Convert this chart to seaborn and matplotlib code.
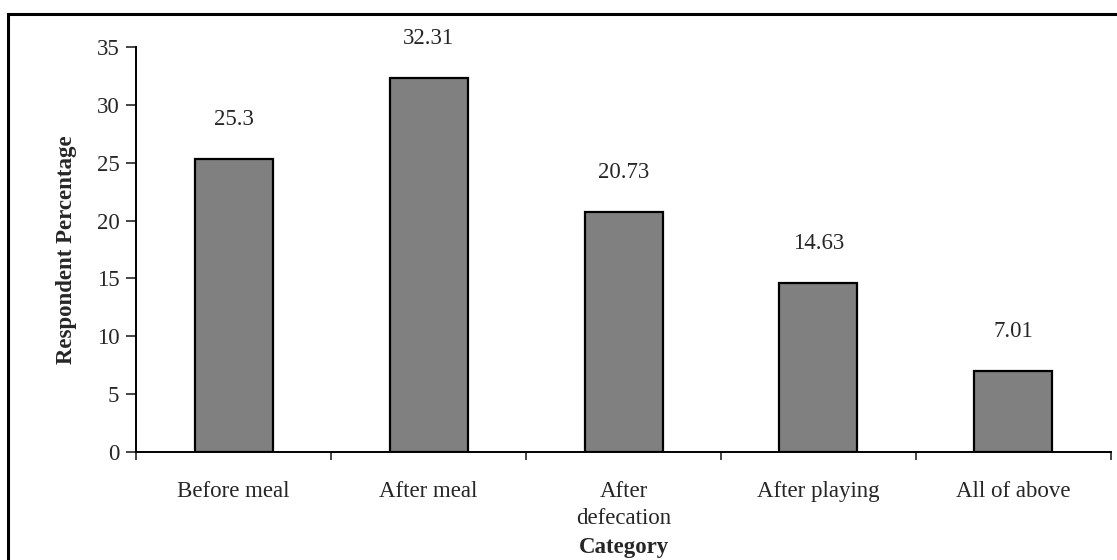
import matplotlib
matplotlib.use("Agg")
import matplotlib.pyplot as plt
import seaborn as sns
import pandas as pd
from matplotlib.patches import Rectangle

# dados do gráfico
categorias = ["Before meal", "After meal", "After\ndefecation", "After playing", "All of above"]
percentual = [25.3, 32.31, 20.73, 14.63, 7.01]
rotulos = ["25.3", "32.31", "20.73", "14.63", "7.01"]
yticks = [0, 5, 10, 15, 20, 25, 30, 35]

df = pd.DataFrame({"categoria": categorias, "percentual": percentual})

sns.set_style("white")
plt.rcParams["font.family"] = ["Liberation Serif", "DejaVu Serif"]
fs = 16.5

fig = plt.figure(figsize=(11.17, 5.6), dpi=100)
ax = fig.add_axes([0.1218, 0.193, 0.8728, 0.723])

sns.barplot(data=df, x="categoria", y="percentual", color="#808080", saturation=1,
            edgecolor="black", linewidth=1.6, width=0.4, ax=ax)

for i, (v, txt) in enumerate(zip(percentual, rotulos)):
    ax.text(i, v + 3.4, txt, ha="center", va="center", fontsize=fs)

ax.set_xlim(-0.5, len(categorias) - 0.5)
ax.set_ylim(0, 35)
ax.set_yticks(yticks)
ax.tick_params(axis="y", labelsize=fs, direction="out", length=7, width=1.2, left=True, pad=5)
ax.set_xticks(range(len(categorias)))
ax.set_xticklabels(categorias, fontsize=fs, linespacing=1.35)
ax.tick_params(axis="x", which="major", length=0, pad=21)
ax.set_xticks([i - 0.5 for i in range(len(categorias) + 1)], minor=True)
ax.tick_params(axis="x", which="minor", direction="out", length=6, width=1.2, bottom=True)

sns.despine(ax=ax)
for s in ["left", "bottom"]:
    ax.spines[s].set_color("black")
    ax.spines[s].set_linewidth(1.4)

ax.set_xlabel("Category", fontsize=fs, fontweight="bold")
ax.set_ylabel("Respondent Percentage", fontsize=fs, fontweight="bold", labelpad=14)
ax.xaxis.set_label_coords(0.5, -0.237)
ax.xaxis.label.set_va("center")

# moldura externa
fig.patches.append(Rectangle((8 / 1117, -0.1), 1.2, 1 - 14 / 560 + 0.1, transform=fig.transFigure,
                             fill=False, edgecolor="black", linewidth=2.2))

fig.savefig("out.png", dpi=100)
plt.close()
